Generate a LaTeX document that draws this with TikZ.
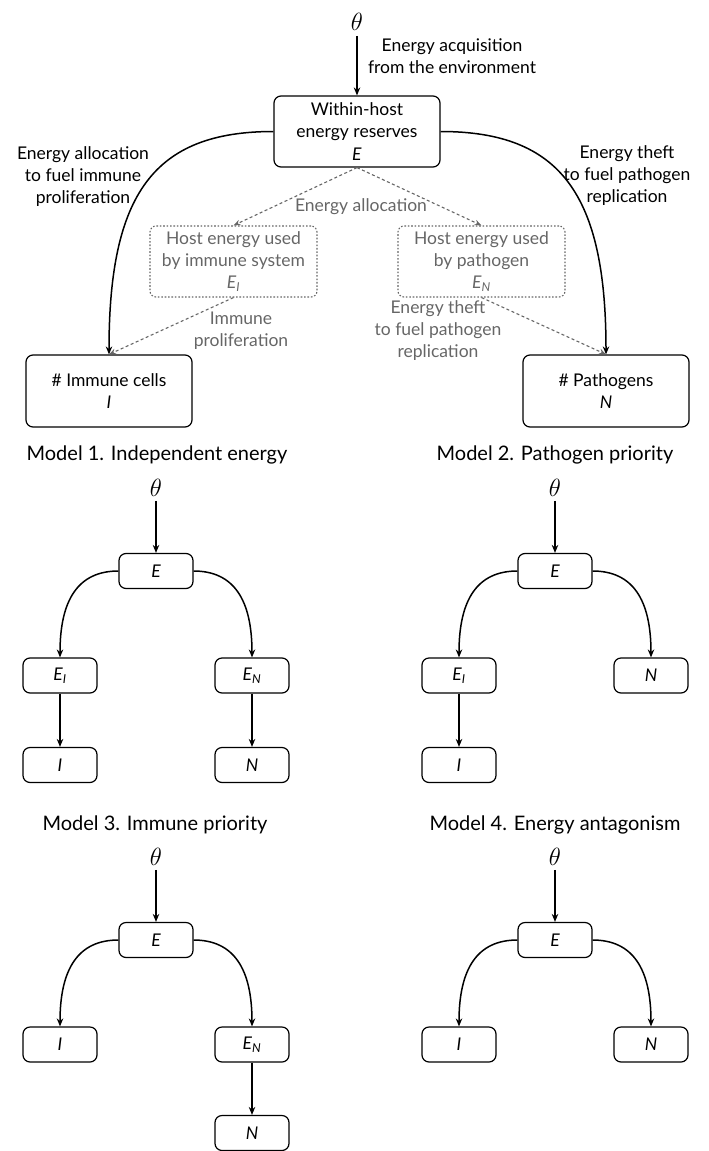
\documentclass[tikz,border=0pt]{standalone}
\usepackage{fontspec}
\setmainfont{Lato}
\usetikzlibrary{arrows.meta}
\definecolor{lgray}{HTML}{666666}
\begin{document}
\begin{tikzpicture}[x=1pt,y=-1pt,
  mainbox/.style={draw, rounded corners=7pt, line width=1.2pt, minimum width=166pt, minimum height=71pt, align=center, font=\fontsize{17.5}{22.5}\selectfont, inner sep=0pt},
  dotbox/.style={draw=lgray, dash pattern=on 1.6pt off 1.8pt, line width=1.1pt, rounded corners=6pt, minimum width=167pt, minimum height=71pt, text=lgray, align=center, font=\fontsize{17.5}{22}\selectfont, inner sep=0pt},
  sbox/.style={draw, rounded corners=7pt, line width=1.2pt, minimum width=74pt, minimum height=35pt, font=\fontsize{17.5}{20}\selectfont\itshape, inner sep=0pt},
  lbl/.style={align=center, font=\fontsize{17.5}{22}\selectfont, inner sep=0pt},
  glbl/.style={lbl, text=lgray},
  ttl/.style={font=\fontsize{20}{24}\selectfont, inner sep=0pt},
  th/.style={font=\fontsize{27}{27}\selectfont, inner sep=0pt},
  arr/.style={-{Stealth[length=8pt,width=6.5pt]}, line width=1.5pt},
  darr/.style={-{Stealth[length=7pt,width=5.5pt]}, dash pattern=on 3pt off 2.5pt, draw=lgray, line width=1.1pt}
]
\useasboundingbox (0,0) rectangle (709,1151);

% ---------- top diagram ----------
\node[th] (t0) at (357,22) {$\theta$};
\node[mainbox] (E0) at (357,131.5) {Within-host\\energy reserves\\\textit{E}};
\node[lbl] (acq) at (452,56) {Energy acquisition\\from the environment};
\node[lbl] (lal) at (83,177) {Energy allocation\\to fuel immune\\proliferation};
\node[lbl] (rth) at (627,176) {Energy theft\\to fuel pathogen\\replication};
\node[dotbox] (EI0) at (233.5,261.5) {Host energy used\\by immune system\\\textit{E}\textsubscript{\textit{I}}};
\node[dotbox] (EN0) at (481.5,261.5) {Host energy used\\by pathogen\\\textit{E}\textsubscript{\textit{N}}};
\node[glbl] (gal) at (361,207) {Energy allocation};
\node[glbl] (gip) at (241,331) {Immune\\proliferation};
\node[glbl] (gth) at (438,331) {Energy theft\\to fuel pathogen\\replication};
\node[mainbox, minimum width=166pt, minimum height=72pt] (I0) at (109,391) {\# Immune cells\\\textit{I}};
\node[mainbox, minimum width=166pt, minimum height=72pt] (N0) at (606,391) {\# Pathogens\\\textit{N}};

\draw[arr, shorten <=5pt] (t0.south) -- (E0.north);
\draw[arr] (E0.west) .. controls +(-120,0) and +(0,-160) .. (I0.north);
\draw[arr] (E0.east) .. controls +(120,0) and +(0,-160) .. (N0.north);
\draw[darr] (E0.south) -- (EI0.north);
\draw[darr] (E0.south) -- (EN0.north);
\draw[darr] (EI0.south) -- (I0.north);
\draw[darr] (EN0.south) -- (N0.north);

% ---------- Model 1 ----------
\node[ttl] (m1t) at (157,455) {Model 1. Independent energy};
\node[th] (m1th) at (156,488) {$\theta$};
\node[sbox] (m1E) at (156,571) {E};
\node[sbox] (m1EI) at (60,675.5) {E\textsubscript{I}};
\node[sbox] (m1EN) at (252,675.5) {E\textsubscript{N}};
\node[sbox] (m1I) at (60,765) {I};
\node[sbox] (m1N) at (252,765) {N};
\draw[arr, shorten <=4pt] (m1th.south) -- (m1E.north);
\draw[arr] (m1E.west) .. controls +(-40,0) and +(0,-58) .. (m1EI.north);
\draw[arr] (m1E.east) .. controls +(40,0) and +(0,-58) .. (m1EN.north);
\draw[arr] (m1EI.south) -- (m1I.north);
\draw[arr] (m1EN.south) -- (m1N.north);

% ---------- Model 2 ----------
\node[ttl] (m2t) at (555,455) {Model 2. Pathogen priority};
\node[th] (m2th) at (555,488) {$\theta$};
\node[sbox] (m2E) at (555,571) {E};
\node[sbox] (m2EI) at (459,675.5) {E\textsubscript{I}};
\node[sbox] (m2N) at (651,675.5) {N};
\node[sbox] (m2I) at (459,765) {I};
\draw[arr, shorten <=4pt] (m2th.south) -- (m2E.north);
\draw[arr] (m2E.west) .. controls +(-40,0) and +(0,-58) .. (m2EI.north);
\draw[arr] (m2E.east) .. controls +(40,0) and +(0,-58) .. (m2N.north);
\draw[arr] (m2EI.south) -- (m2I.north);

% ---------- Model 3 ----------
\node[ttl] (m3t) at (155,825) {Model 3. Immune priority};
\node[th] (m3th) at (156,857) {$\theta$};
\node[sbox] (m3E) at (156,940) {E};
\node[sbox] (m3I) at (60,1044.5) {I};
\node[sbox] (m3EN) at (252,1044.5) {E\textsubscript{N}};
\node[sbox] (m3N) at (252,1133) {N};
\draw[arr, shorten <=4pt] (m3th.south) -- (m3E.north);
\draw[arr] (m3E.west) .. controls +(-40,0) and +(0,-58) .. (m3I.north);
\draw[arr] (m3E.east) .. controls +(40,0) and +(0,-58) .. (m3EN.north);
\draw[arr] (m3EN.south) -- (m3N.north);

% ---------- Model 4 ----------
\node[ttl] (m4t) at (555,825) {Model 4. Energy antagonism};
\node[th] (m4th) at (555,857) {$\theta$};
\node[sbox] (m4E) at (555,940) {E};
\node[sbox] (m4I) at (459,1044.5) {I};
\node[sbox] (m4N) at (651,1044.5) {N};
\draw[arr, shorten <=4pt] (m4th.south) -- (m4E.north);
\draw[arr] (m4E.west) .. controls +(-40,0) and +(0,-58) .. (m4I.north);
\draw[arr] (m4E.east) .. controls +(40,0) and +(0,-58) .. (m4N.north);
\end{tikzpicture}
\end{document}
